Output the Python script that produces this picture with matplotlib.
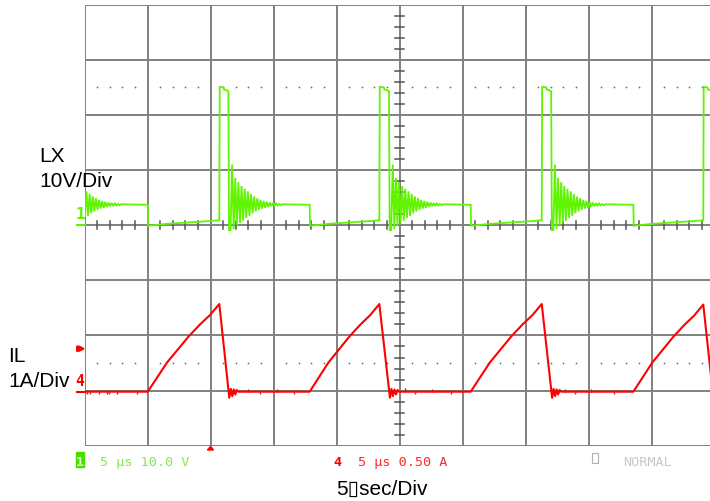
import matplotlib
matplotlib.use("Agg")
import matplotlib.pyplot as plt
from matplotlib.patches import Polygon, Rectangle

W, H, DPI = 710, 502, 100

# scope settings
US_PER_DIV = 5.0
LX_V_PER_DIV = 10.0
IL_A_PER_DIV = 1.0
LX_GND_DIV = 0.0
IL_GND_DIV = -3.02
IL_TRIG_A = 0.78
TRIG_POS_US = 10.0

# switching events, µs from the left edge of the screen
sw_on_us = [5.02, 17.87, 30.65, 43.56]              # LX pulled low, inductor current ramps
sw_off_us = [-2.12, 10.70, 23.40, 36.29, 49.11]     # LX flies high, current peak
pulse_end_us = [-1.37, 11.44, 24.19, 37.06, 49.86]  # diode current reaches zero, ringing starts

# LX node (V)
lx_top_frac = [0.04, 0.45, 0.52, 0.75, 0.97]
lx_top_v = [25.1, 25.0, 24.6, 24.5, 24.3]
lx_low_frac = [0.0, 0.27, 0.57, 0.87, 1.0]
lx_low_v = [-0.1, 0.25, 0.5, 0.75, 0.9]
lx_ring_trough_v = [-0.9, -0.7, 0.0, 0.4, 0.8, 1.3, 1.7, 2.15, 2.5, 2.8,
                    3.0, 3.15, 3.3, 3.45, 3.55, 3.6, 3.62]
lx_ring_peak_v = [11.0, 8.6, 7.8, 7.1, 6.6, 6.15, 5.65, 5.2, 4.9, 4.6,
                  4.4, 4.25, 4.1, 4.0, 3.95, 3.85, 3.8]
lx_ring_period_us = 0.25
lx_settle_v = 3.7

# inductor current (A)
il_ramp_frac = [0.0, 0.27, 0.57, 0.73, 0.87, 1.0]
il_ramp_a = [0.0, 0.53, 1.0, 1.22, 1.39, 1.59]
il_peak_a = [1.59, 1.59, 1.59, 1.58]
il_tail_a = [-0.11, 0.05, -0.08, 0.04, -0.05, 0.03, 0.0]
il_tail_step_us = 0.12
il_glitch_us = [0.22, 0.44, 1.15, 1.76, 1.94, 2.56, 4.14, 13.0, 13.9, 15.3,
                16.6, 25.4, 26.2, 27.6, 29.1, 38.1, 38.9, 40.2, 42.0]
il_glitch_a = [-0.05, -0.04, -0.05, -0.04, -0.05, -0.04, -0.05, 0.05, -0.05, 0.04,
               -0.04, 0.06, -0.05, 0.04, -0.04, 0.05, -0.05, 0.04, -0.04]

GREEN = "#60f400"
RED = "#ff0000"
GRID = "#808080"
DARK = "#555555"


def lx_trace():
    t, v = [], []
    for k, (t0, t1) in enumerate(zip(sw_off_us, pulse_end_us)):
        t.append(t0)
        v.append(lx_low_v[-1])
        for f, hv in zip(lx_top_frac, lx_top_v):
            t.append(t0 + f * (t1 - t0))
            v.append(hv)
        t.append(t1 + 0.03)
        v.append(lx_ring_trough_v[0])
        for j, (lo, hi) in enumerate(zip(lx_ring_trough_v, lx_ring_peak_v)):
            t.append(t1 + 0.15 + j * lx_ring_period_us)
            v.append(lo)
            t.append(t1 + 0.15 + (j + 0.5) * lx_ring_period_us)
            v.append(hi)
        if k < len(sw_on_us):
            ton, tnext = sw_on_us[k], sw_off_us[k + 1]
            t.append(ton)
            v.append(lx_settle_v)
            t.append(ton + 0.03)
            v.append(lx_low_v[0])
            for f, lv in zip(lx_low_frac[1:], lx_low_v[1:]):
                t.append(ton + f * (tnext - ton))
                v.append(lv)
    return t, [x / LX_V_PER_DIV + LX_GND_DIV for x in v]


def il_trace():
    t, a = [-1.0], [0.0]
    for k, ton in enumerate(sw_on_us):
        toff, tend = sw_off_us[k + 1], pulse_end_us[k + 1]
        scale = il_peak_a[k] / il_ramp_a[-1]
        for f, i in zip(il_ramp_frac, il_ramp_a):
            t.append(ton + f * (toff - ton))
            a.append(i * scale)
        for j, i in enumerate(il_tail_a):
            t.append(tend + 0.05 + j * il_tail_step_us)
            a.append(i)
    return t, [x / IL_A_PER_DIV + IL_GND_DIV for x in a]


fig = plt.figure(figsize=(W / DPI, H / DPI), dpi=DPI)
fig.patch.set_facecolor("white")

left, top, width, height = 84.5, 5.7, 630.0, 441.0
ax = fig.add_axes([left / W, 1 - (top + height) / H, width / W, height / H])
ax.set_xlim(0, 10 * US_PER_DIV)
ax.set_ylim(-4, 4)
ax.axis("off")

# graticule
for d in range(11):
    ax.axvline(d * US_PER_DIV, color=GRID, lw=1.4, zorder=1)
for d in range(-4, 5):
    ax.axhline(d, color=GRID, lw=1.4, zorder=1)

# center-line ticks every 0.2 div
for k in range(1, 50):
    if k % 5:
        x = k * 0.2 * US_PER_DIV
        ax.plot([x, x], [-0.075, 0.075], color=DARK, lw=1.1, zorder=1)
for k in range(-19, 20):
    if k % 5:
        y = k * 0.2
        ax.plot([5 * US_PER_DIV - 0.36, 5 * US_PER_DIV + 0.36], [y, y],
                color=DARK, lw=1.1, zorder=1)

# dotted reference levels
dot_x = [k * 0.2 * US_PER_DIV for k in range(1, 50) if k % 5]
for ylev in (2.5, -2.5):
    ax.scatter(dot_x, [ylev] * len(dot_x), s=1.5, color="#666666", lw=0, zorder=1)

# traces
tx, vy = lx_trace()
ax.plot(tx, vy, color=GREEN, lw=1.3, zorder=3, solid_joinstyle="miter")
ti, iy = il_trace()
ax.plot(ti, iy, color=RED, lw=1.5, zorder=3)
ax.vlines(il_glitch_us, IL_GND_DIV, [IL_GND_DIV + g for g in il_glitch_a],
          color=RED, lw=1.0, zorder=3)

# channel ground markers, trigger level and trigger position
ax.plot([-0.62, 0], [LX_GND_DIV, LX_GND_DIV], color=GREEN, lw=1.5, clip_on=False)
ax.plot([-0.62, 0], [IL_GND_DIV, IL_GND_DIV], color=RED, lw=1.5, clip_on=False)
ax.text(-0.36, LX_GND_DIV + 0.07, "1", color=GREEN, fontsize=11.5, fontweight="bold",
        family="DejaVu Sans Mono", ha="center", va="bottom", clip_on=False)
ax.text(-0.36, IL_GND_DIV + 0.07, "4", color=RED, fontsize=10.5, fontweight="bold",
        family="DejaVu Sans Mono", ha="center", va="bottom", clip_on=False)
ty = IL_GND_DIV + IL_TRIG_A
ax.add_patch(Polygon([(-0.62, ty + 0.045), (-0.42, ty + 0.045), (-0.04, ty),
                      (-0.42, ty - 0.045), (-0.62, ty - 0.045)],
                     closed=True, color=RED, clip_on=False))
ax.add_patch(Polygon([(TRIG_POS_US - 0.24, -4.078), (TRIG_POS_US + 0.24, -4.078),
                      (TRIG_POS_US, -4.011)], closed=True, color=RED, clip_on=False))


def fx(x):
    return x / W


def fy(y):
    return 1 - y / H


# channel labels
lab = dict(family=["Liberation Sans", "DejaVu Sans"], fontsize=15, color="black",
           va="baseline", ha="left")
fig.text(fx(39), fy(162), "LX", **lab)
fig.text(fx(39), fy(187), "10V/Div", **lab)
fig.text(fx(8), fy(362), "IL", **lab)
fig.text(fx(8), fy(387), "1A/Div", **lab)
fig.text(fx(336), fy(495), "5\u25afsec/Div", **lab)

# status line
mono = dict(family="DejaVu Sans Mono", fontsize=9.7, va="baseline", ha="left")
fig.patches.append(Rectangle((fx(76), fy(468)), 8 / W, 15 / H, transform=fig.transFigure,
                             color="#44e000", zorder=2))
fig.text(fx(80), fy(466), "1", color="#d8ffc0", fontweight="bold",
         **{**mono, "ha": "center"})
fig.text(fx(100.5), fy(466), "5 \u00b5s 10.0 V", color="#86e84c", **mono)
fig.text(fx(333), fy(466), "4", color=RED, fontweight="bold", **mono)
fig.text(fx(357.5), fy(466), "5 \u00b5s 0.50 A", color="#ff2a2a", **mono)
fig.patches.append(Rectangle((fx(592), fy(463.5)), 6 / W, 10 / H, transform=fig.transFigure,
                             fill=False, edgecolor="#b0b0b0", lw=0.8))
fig.text(fx(623), fy(466), "NORMAL", color="#c8c8c8", **mono)

fig.savefig("out.png", dpi=DPI, facecolor="white")
